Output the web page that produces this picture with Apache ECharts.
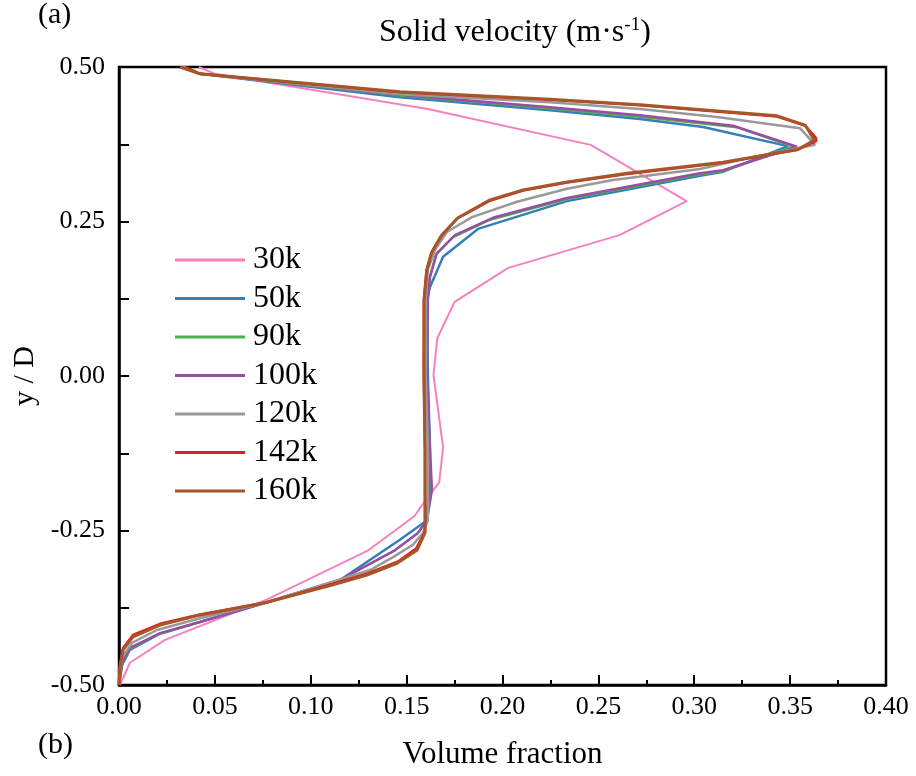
<!DOCTYPE html>
<html>
<head>
<meta charset="utf-8">
<script src="https://cdn.jsdelivr.net/npm/echarts@6/dist/echarts.min.js"></script>
<style>
  html, body { margin: 0; padding: 0; background: #fff; }
  #chart { width: 916px; height: 776px; }
</style>
</head>
<body>
<div id="chart"></div>
<script>
// Axis ticks
const xTicks = [0, 0.05, 0.10, 0.15, 0.20, 0.25, 0.30, 0.35, 0.40];
const yTicks = [-0.50, -0.25, 0.00, 0.25, 0.50];

// Solids volume fraction (x) against normalised height y/D for each case
const frac30k = [0.0417, 0.050, 0.161, 0.246, 0.296, 0.261, 0.203, 0.175, 0.166, 0.164, 0.169, 0.167, 0.159, 0.154, 0.130, 0.077, 0.024, 0.0057, 0.0005];
const pos30k  = [0.500, 0.489, 0.432, 0.374, 0.283, 0.228, 0.175, 0.120, 0.061, 0.002, -0.115, -0.172, -0.205, -0.227, -0.282, -0.362, -0.427, -0.464, -0.500];

const frac50k = [0.0334, 0.0422, 0.1465, 0.2248, 0.2717, 0.3046, 0.3489, 0.3145, 0.303, 0.2336, 0.1872, 0.169, 0.1622, 0.1606, 0.1611, 0.1622, 0.1622, 0.1596, 0.1465, 0.1153, 0.0772, 0.0422, 0.0214, 0.0057, 0.0016, 0];
const pos50k  = [0.500, 0.489, 0.451, 0.430, 0.416, 0.403, 0.372, 0.330, 0.324, 0.283, 0.238, 0.193, 0.144, 0.123, 0.000, -0.120, -0.184, -0.236, -0.265, -0.330, -0.366, -0.398, -0.417, -0.443, -0.468, -0.500];

const frac90k = [0.0334, 0.0422, 0.1465, 0.2248, 0.2717, 0.3225, 0.3515, 0.315, 0.303, 0.2336, 0.193, 0.174, 0.165, 0.1617, 0.161, 0.1606, 0.162, 0.163, 0.1606, 0.1559, 0.1439, 0.1153, 0.0772, 0.0422, 0.0214, 0.0057, 0.0016, 0];
const pos90k  = [0.500, 0.489, 0.454, 0.433, 0.419, 0.402, 0.371, 0.331, 0.326, 0.286, 0.252, 0.224, 0.195, 0.156, 0.123, 0.000, -0.120, -0.184, -0.233, -0.254, -0.282, -0.330, -0.366, -0.398, -0.417, -0.442, -0.466, -0.500];

const frac100k = [0.0334, 0.0422, 0.1465, 0.2248, 0.2717, 0.3202, 0.3536, 0.315, 0.303, 0.2336, 0.195, 0.1752, 0.1658, 0.1622, 0.1611, 0.1606, 0.1622, 0.1632, 0.1606, 0.1559, 0.1439, 0.1153, 0.0772, 0.0422, 0.0214, 0.0057, 0.0016, 0];
const pos100k  = [0.500, 0.489, 0.455, 0.435, 0.422, 0.405, 0.371, 0.333, 0.328, 0.288, 0.256, 0.228, 0.199, 0.160, 0.123, 0.000, -0.120, -0.184, -0.233, -0.254, -0.282, -0.330, -0.366, -0.398, -0.416, -0.440, -0.464, -0.500];

const frac120k = [0.0334, 0.0422, 0.1465, 0.2248, 0.2717, 0.3119, 0.3551, 0.3593, 0.3630, 0.329, 0.303, 0.2576, 0.2336, 0.2076, 0.1841, 0.171, 0.1648, 0.1611, 0.160, 0.160, 0.1611, 0.1611, 0.1585, 0.1533, 0.1429, 0.1309, 0.1116, 0.0772, 0.0422, 0.0198, 0.0068, 0.0016, 0, 0];
const pos120k  = [0.500, 0.489, 0.456, 0.443, 0.432, 0.419, 0.401, 0.387, 0.374, 0.353, 0.335, 0.317, 0.303, 0.282, 0.257, 0.233, 0.204, 0.172, 0.123, 0.000, -0.120, -0.233, -0.254, -0.273, -0.293, -0.314, -0.333, -0.366, -0.392, -0.411, -0.432, -0.455, -0.492, -0.500];

const frac142k = [0.035, 0.0422, 0.1465, 0.2248, 0.2717, 0.3432, 0.358, 0.3635, 0.3635, 0.3536, 0.315, 0.265, 0.2336, 0.2107, 0.193, 0.176, 0.1678, 0.1628, 0.1603, 0.159, 0.159, 0.1596, 0.1596, 0.1596, 0.155, 0.1455, 0.1293, 0.1116, 0.0772, 0.0422, 0.0214, 0.0073, 0.0021, 0.0005, 0];
const pos142k  = [0.500, 0.489, 0.459, 0.447, 0.438, 0.420, 0.405, 0.385, 0.380, 0.366, 0.345, 0.327, 0.313, 0.300, 0.283, 0.254, 0.226, 0.199, 0.170, 0.123, 0.000, -0.120, -0.217, -0.252, -0.279, -0.300, -0.320, -0.336, -0.366, -0.386, -0.401, -0.419, -0.440, -0.468, -0.500];

const frac160k = [0.0318, 0.0422, 0.1465, 0.2248, 0.2717, 0.3432, 0.3578, 0.3619, 0.3630, 0.3536, 0.315, 0.265, 0.2336, 0.2107, 0.1935, 0.1768, 0.1684, 0.1632, 0.1606, 0.1591, 0.159, 0.1596, 0.1596, 0.1596, 0.1554, 0.145, 0.1293, 0.1116, 0.0772, 0.0422, 0.0214, 0.0073, 0.0021, 0.0005, 0];
const pos160k  = [0.500, 0.489, 0.460, 0.448, 0.439, 0.421, 0.406, 0.385, 0.382, 0.366, 0.346, 0.328, 0.314, 0.301, 0.285, 0.256, 0.228, 0.201, 0.172, 0.123, 0.000, -0.120, -0.217, -0.254, -0.282, -0.303, -0.322, -0.338, -0.366, -0.387, -0.403, -0.422, -0.443, -0.471, -0.500];

const caseNames = ['30k', '50k', '90k', '100k', '120k', '142k', '160k'];
const caseFrac = [frac30k, frac50k, frac90k, frac100k, frac120k, frac142k, frac160k];
const casePos = [pos30k, pos50k, pos90k, pos100k, pos120k, pos142k, pos160k];
const caseColors = ['#f781bf', '#377eb8', '#4daf4a', '#984ea3', '#999999', '#e41a1c', '#a65628'];
const caseWidths = [2, 2.5, 2, 2.5, 2.5, 2.5, 3];

const FONT = 'Liberation Serif';

const series = caseNames.map((name, i) => ({
  name: name,
  type: 'line',
  symbol: 'none',
  showSymbol: false,
  animation: false,
  lineStyle: { color: caseColors[i], width: caseWidths[i] },
  itemStyle: { color: caseColors[i] },
  data: caseFrac[i].map((x, k) => [x, casePos[i][k]])
}));

const chart = echarts.init(document.getElementById('chart'));
chart.setOption({
  backgroundColor: '#fff',
  animation: false,
  title: {
    left: 374,
    top: 11,
    text: '{t|Solid velocity (m·s}{s|-1}{t|)}',
    textStyle: {
      fontWeight: 'normal',
      rich: {
        t: { fontFamily: FONT, fontSize: 32, fontWeight: 'normal', color: '#000' },
        s: { fontFamily: FONT, fontSize: 19, fontWeight: 'normal', color: '#000', verticalAlign: 'top', padding: [0, 0, 14, 0] }
      }
    }
  },
  grid: { left: 119, right: 30, top: 67, bottom: 91, show: true, borderColor: '#000', borderWidth: 2.5, containLabel: false },
  legend: {
    orient: 'vertical',
    left: 170,
    top: 239,
    icon: 'rect',
    itemWidth: 70,
    itemHeight: 3,
    itemGap: 6.5,
    data: caseNames,
    textStyle: { fontFamily: FONT, fontSize: 32, color: '#000', lineHeight: 32, padding: [0, 0, 0, 3] }
  },
  xAxis: {
    type: 'value',
    min: xTicks[0],
    max: xTicks[xTicks.length - 1],
    interval: 0.05,
    name: 'Volume fraction',
    nameLocation: 'middle',
    nameGap: 54,
    nameTextStyle: { fontFamily: FONT, fontSize: 31, color: '#000' },
    axisLine: { onZero: false, lineStyle: { color: '#000', width: 2.5 } },
    axisTick: { inside: true, length: 10, lineStyle: { color: '#000', width: 2 } },
    minorTick: { show: true, splitNumber: 2, length: 5, lineStyle: { color: '#000', width: 2 } },
    splitLine: { show: false },
    axisLabel: { fontFamily: FONT, fontSize: 26, color: '#000', margin: 9, formatter: v => v.toFixed(2) }
  },
  yAxis: {
    type: 'value',
    min: yTicks[0],
    max: yTicks[yTicks.length - 1],
    interval: 0.25,
    name: 'y / D',
    nameLocation: 'middle',
    nameGap: 70,
    nameTextStyle: { fontFamily: FONT, fontSize: 30, color: '#000' },
    axisLine: { onZero: false, lineStyle: { color: '#000', width: 2.5 } },
    axisTick: { inside: true, length: 10, lineStyle: { color: '#000', width: 2 } },
    minorTick: { show: true, splitNumber: 2, length: 10, lineStyle: { color: '#000', width: 2 } },
    splitLine: { show: false },
    axisLabel: { fontFamily: FONT, fontSize: 26, color: '#000', margin: 14, formatter: v => v.toFixed(2) }
  },
  graphic: [
    { type: 'text', left: 38, top: 0, style: { text: '(a)', fontFamily: FONT, fontSize: 30, fill: '#000' } },
    { type: 'text', left: 38, top: 730, style: { text: '(b)', fontFamily: FONT, fontSize: 30, fill: '#000' } }
  ],
  series: series
});
</script>
</body>
</html>
